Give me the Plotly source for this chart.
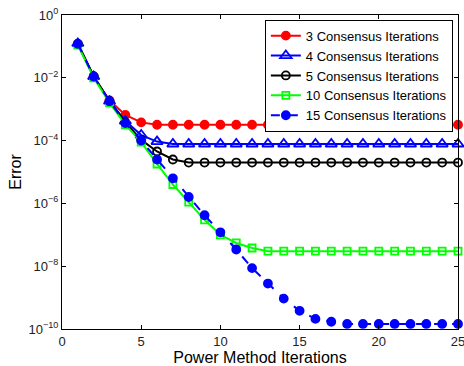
import plotly.graph_objects as go

iters = list(range(1, 26))

err_3 = [1.2e-1, 1.1e-2, 1.9e-3, 6.6e-4, 3.8e-4] + [3.2e-4] * 20
err_4 = [1.25e-1, 1.1e-2, 1.8e-3, 4.2e-4, 1.5e-4, 9.3e-5] + [7.8e-5] * 19
err_5 = [1.2e-1, 1.1e-2, 1.8e-3, 3.8e-4, 1.05e-4, 4.5e-5, 2.5e-5] + [2.0e-5] * 18
err_10 = [1.1e-1, 1.0e-2, 1.6e-3, 3.2e-4, 9.0e-5, 1.8e-5, 4.0e-6, 1.1e-6, 3.0e-7,
          1.0e-7, 5.5e-8, 3.8e-8] + [3.0e-8] * 13
err_15 = [1.2e-1, 1.1e-2, 1.8e-3, 3.6e-4, 1.0e-4, 2.5e-5, 6.3e-6, 1.6e-6, 4.2e-7,
          1.2e-7, 3.4e-8, 8.7e-9, 2.8e-9, 9.3e-10, 3.8e-10, 2.1e-10, 1.7e-10] + [1.45e-10] * 8

x_ticks = [0, 5, 10, 15, 20, 25]
y_tickvals = [1e0, 1e-2, 1e-4, 1e-6, 1e-8, 1e-10]
y_ticktext = ["10<sup>0</sup>", "10<sup>−2</sup>", "10<sup>−4</sup>", "10<sup>−6</sup>",
              "10<sup>−8</sup>", "10<sup>−10</sup>"]

series = [
    ("3 Consensus Iterations", err_3, "#ff0000", "circle", "solid", 8),
    ("4 Consensus Iterations", err_4, "#0000ff", "triangle-up-open", "solid", 10),
    ("5 Consensus Iterations", err_5, "#000000", "circle-open", "solid", 8),
    ("10 Consensus Iterations", err_10, "#00ff00", "square-open", "solid", 7),
    ("15 Consensus Iterations", err_15, "#0000ff", "circle", "dash", 8),
]

fig = go.Figure()
for name, ys, col, sym, dash, size in series:
    fig.add_trace(go.Scatter(
        x=iters, y=ys, name=name, mode="lines+markers",
        line=dict(color=col, width=2, dash=dash),
        marker=dict(color=col, symbol=sym, size=size, line=dict(color=col, width=1.8)),
        cliponaxis=False,
    ))

axis_common = dict(
    showline=True, linecolor="black", linewidth=1, mirror="ticks",
    ticks="inside", ticklen=4, tickcolor="black", showgrid=False, zeroline=False,
    automargin=False, ticklabeloverflow="allow",
    tickfont=dict(family="Liberation Sans, Arial, sans-serif", size=13, color="#222"),
)

fig.update_layout(
    width=464, height=366,
    margin=dict(l=62, r=6, t=15, b=37),
    paper_bgcolor="white", plot_bgcolor="white",
    font=dict(family="Liberation Sans, Arial, sans-serif", color="black"),
    xaxis=dict(range=[0, 25], tickvals=x_ticks, **axis_common,
               title=dict(text="Power Method Iterations", font=dict(size=16))),
    yaxis=dict(type="log", range=[-10, 0], tickvals=y_tickvals, ticktext=y_ticktext,
               **axis_common,
               title=dict(text="Error", font=dict(size=16), standoff=2)),
    legend=dict(x=0.987, y=0.985, xanchor="right", yanchor="top",
                bgcolor="white", bordercolor="black", borderwidth=1,
                font=dict(size=13, family="Liberation Sans, Arial, sans-serif"),
                tracegroupgap=0, itemwidth=30),
    showlegend=True,
)

fig.write_html("out.html", config={"displayModeBar": False},
               post_script="document.body.style.margin='0';document.body.style.overflow='hidden';")
